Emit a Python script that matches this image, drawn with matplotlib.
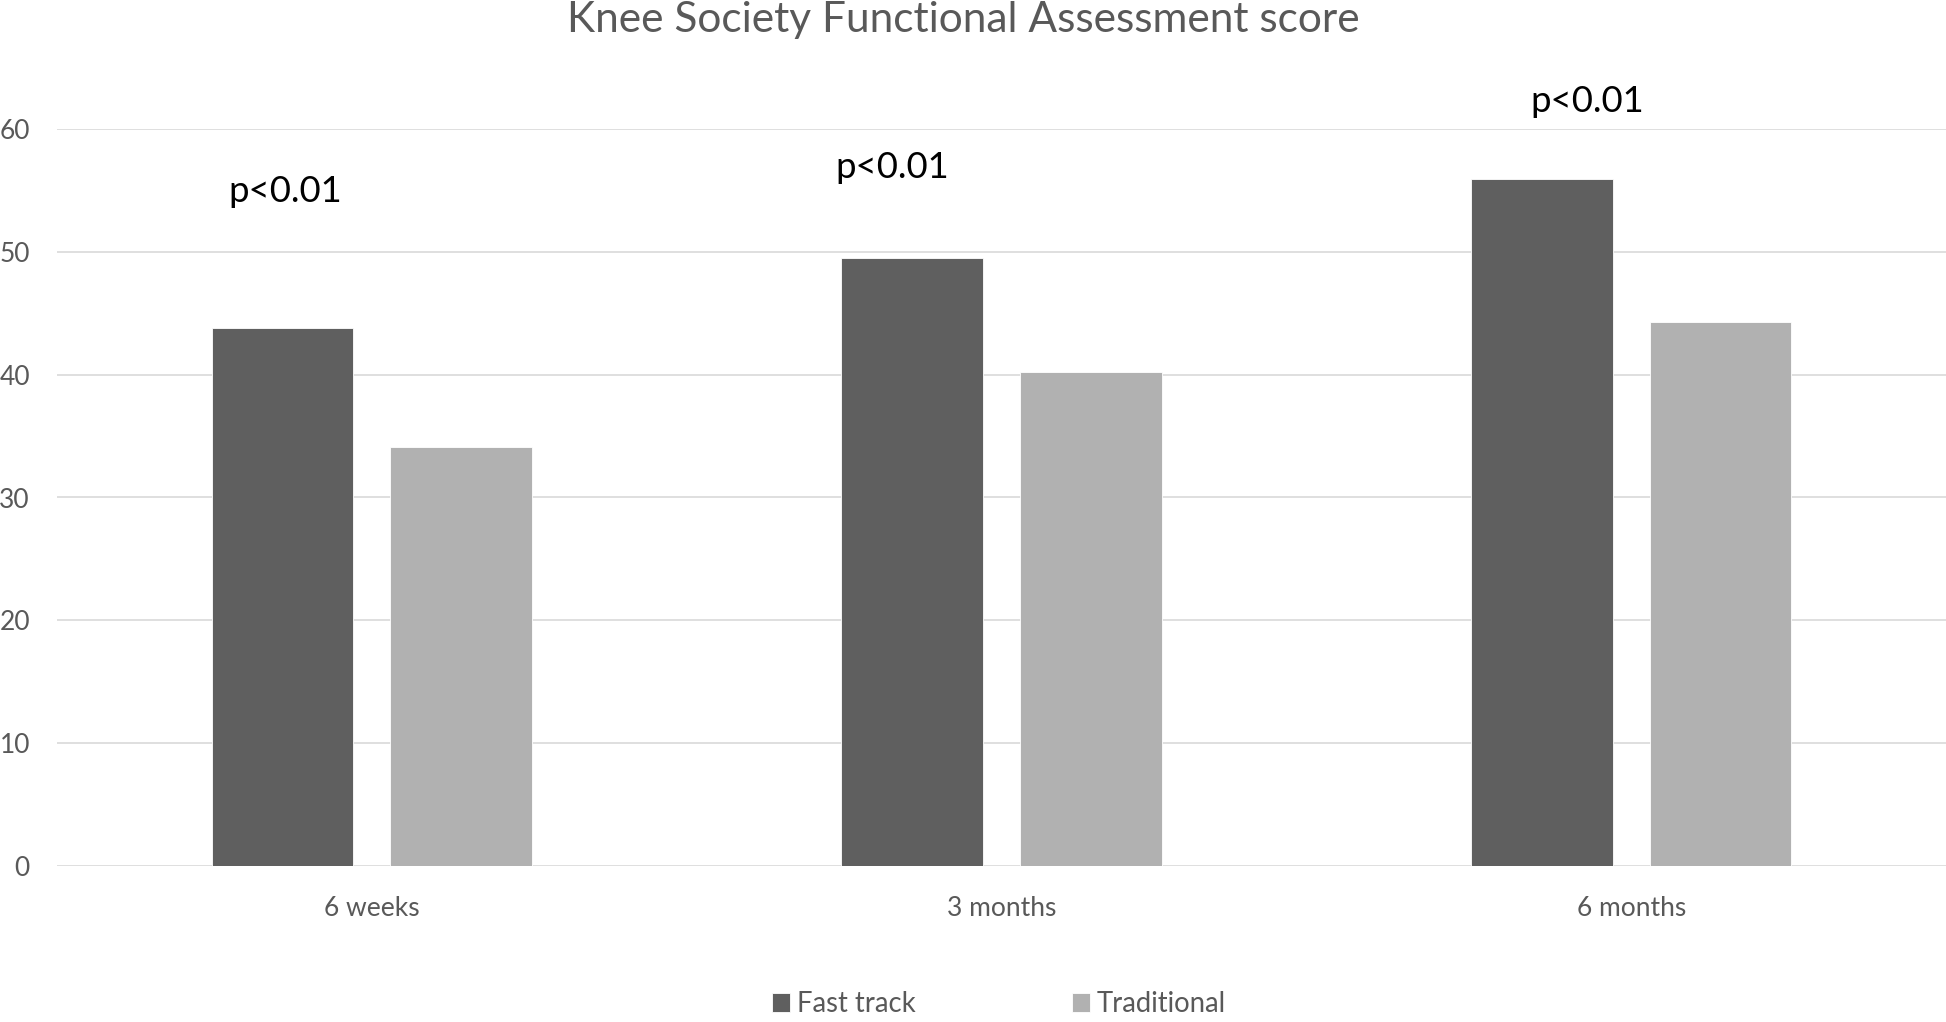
import matplotlib.pyplot as plt
import numpy as np

plt.rcParams['font.family'] = ['Lato', 'DejaVu Sans']

categories = ['6 weeks', '3 months', '6 months']
fast_track = [43.8, 49.5, 55.9]
traditional = [34.1, 40.2, 44.3]
p_labels = ['p<0.01', 'p<0.01', 'p<0.01']
y_ticks = [0, 10, 20, 30, 40, 50, 60]

# where the p-value labels sit (data coords)
p_x = [-0.138, 0.827, 1.931]
p_y = [54.9, 56.9, 62.2]

W, H = 1946, 1022
fig = plt.figure(figsize=(W / 100, H / 100), dpi=100)
ax = fig.add_axes([57 / W, 1 - 866 / H, 1 - 57 / W, (866 - 129) / H])

x = np.arange(len(categories))
width = 0.225
off = 0.142
ax.bar(x - off, fast_track, width, color='#5f5f5f', edgecolor='#ffffff',
       linewidth=0.6, label='Fast track', zorder=3)
ax.bar(x + off, traditional, width, color='#b1b1b1', edgecolor='#ffffff',
       linewidth=0.6, label='Traditional', zorder=3)

ax.set_xlim(-0.5, len(categories) - 0.5)
ax.set_ylim(0, 60)
ax.set_yticks(y_ticks)
ax.set_xticks(x)
ax.set_xticklabels(categories)
ax.yaxis.grid(True, color='#d9d9d9', linewidth=1.2, zorder=0)
ax.set_axisbelow(True)
for s in ax.spines.values():
    s.set_visible(False)
ax.tick_params(axis='y', length=0, pad=19.5, labelsize=19, labelcolor='#595959')
ax.tick_params(axis='x', length=0, pad=21.5, labelsize=19, labelcolor='#595959')

for px, py, lab in zip(p_x, p_y, p_labels):
    ax.text(px, py, lab, ha='center', va='center', fontsize=26.3,
            color='black', clip_on=False)

fig.text(963 / W, 1 - 20 / H, 'Knee Society Functional Assessment score',
         ha='center', va='center', fontsize=30.5, color='#595959')

# legend sits right at the bottom edge, nudged up just enough to stay whole
fig.legend(loc='center', bbox_to_anchor=(999 / W, 1 - 1004 / H), ncol=2,
           frameon=False, fontsize=19.8, labelcolor='#595959',
           handlelength=0.65, handleheight=0.65, handletextpad=0.25,
           columnspacing=5.7, borderpad=0)

fig.savefig('out.png', dpi=100)
